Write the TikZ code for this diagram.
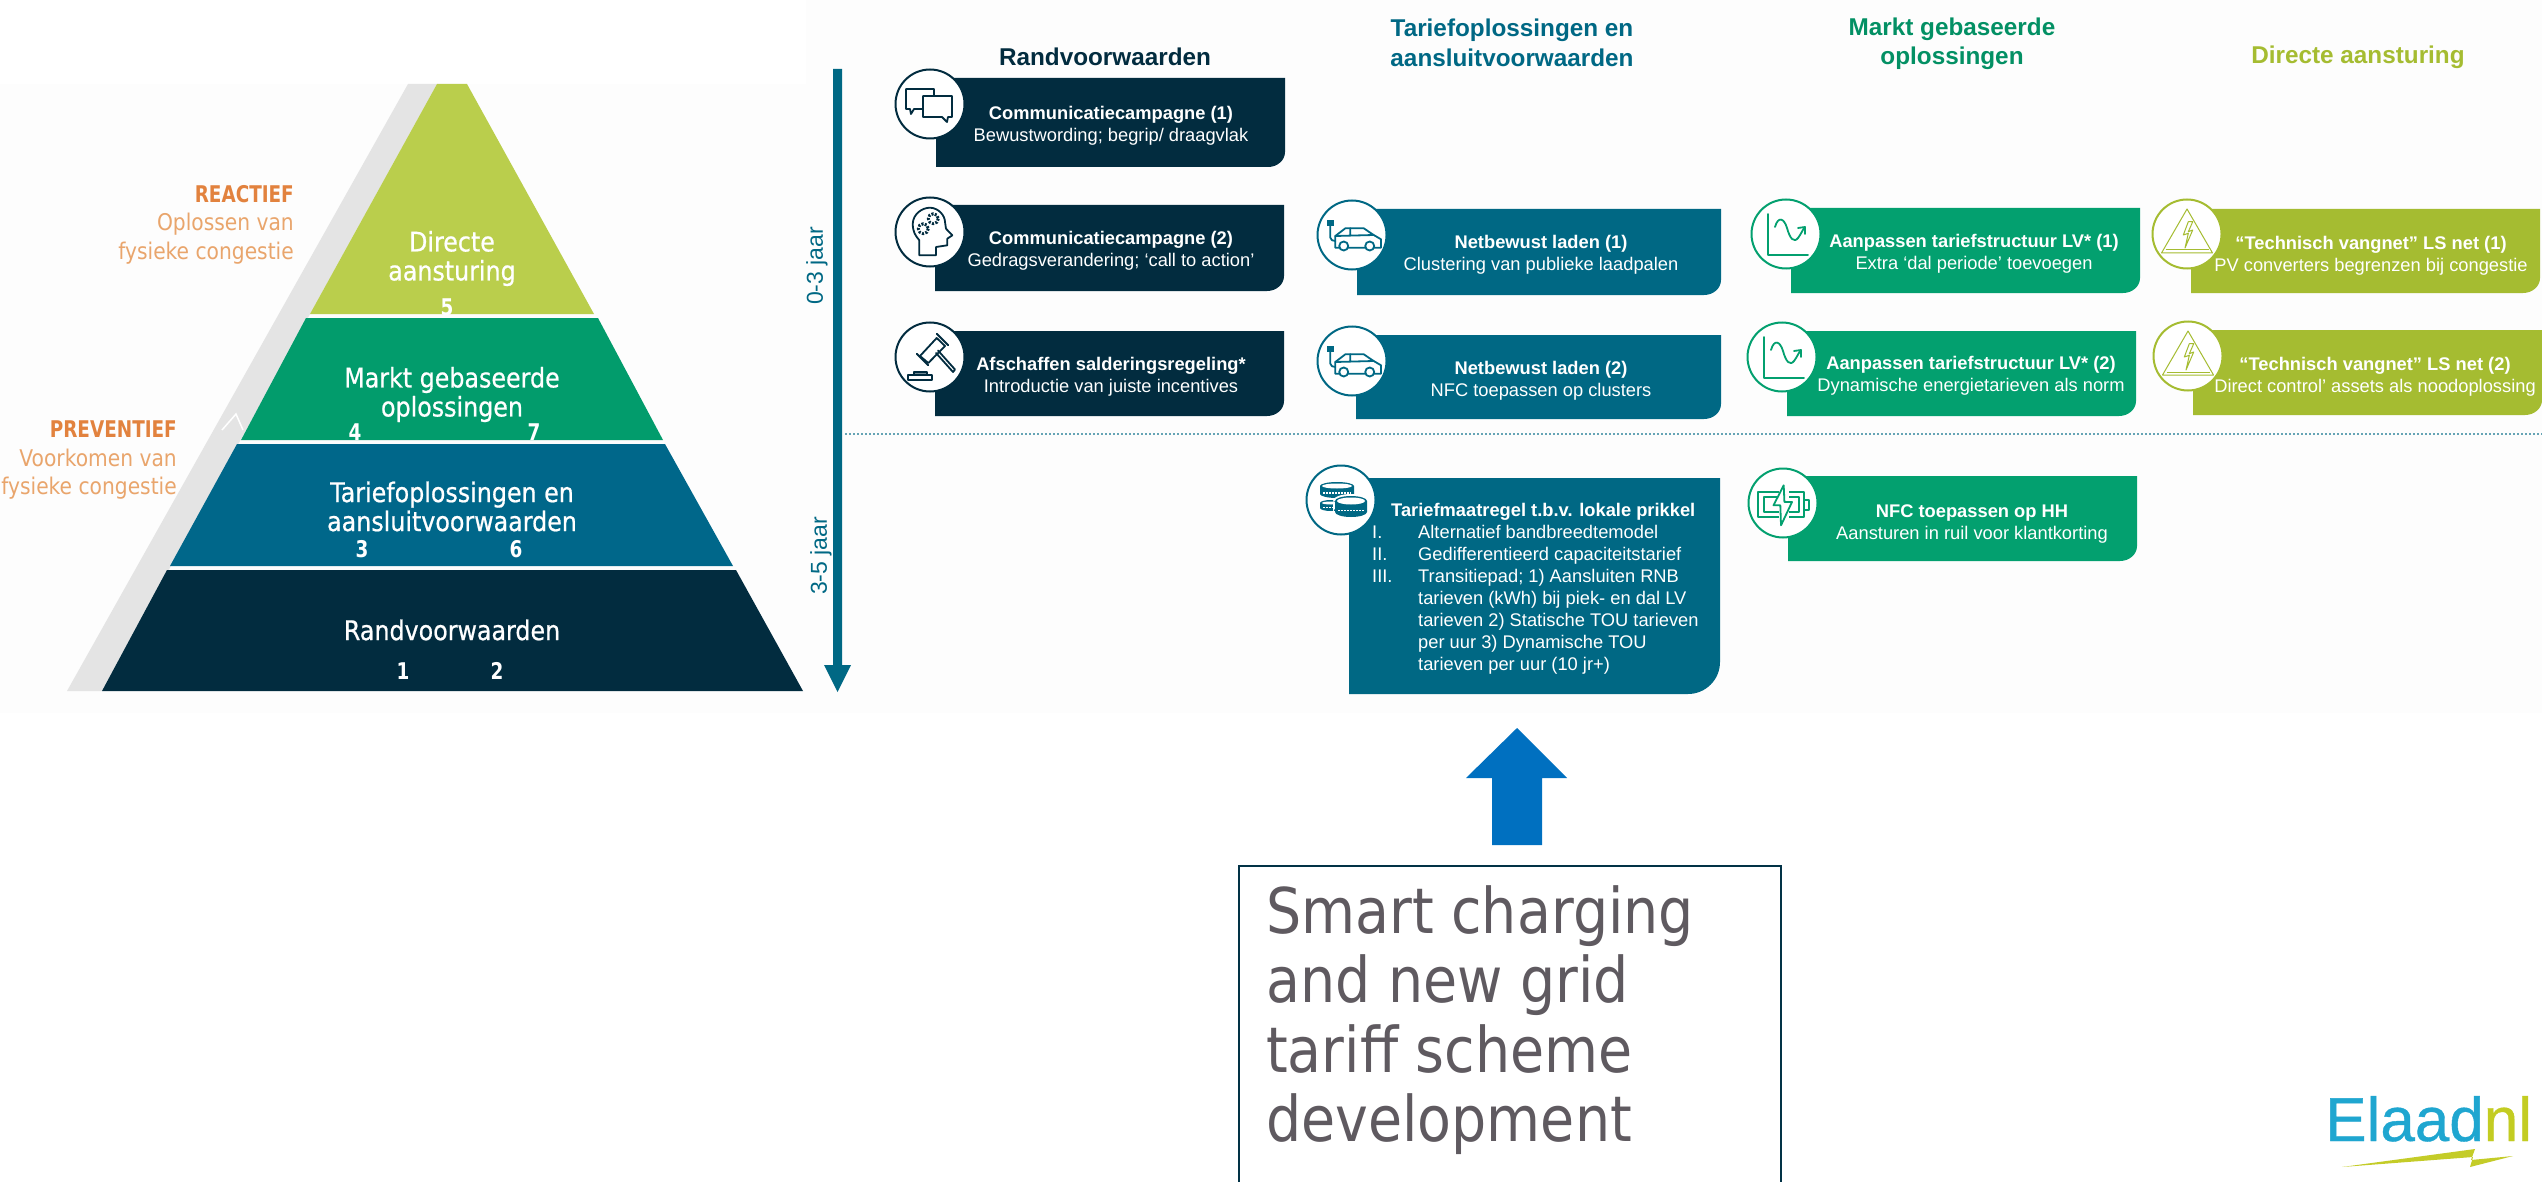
\documentclass[tikz,border=0pt]{standalone}
\usepackage{fontspec}
\setmainfont{Liberation Sans}
\newfontfamily\pyrfont[FakeStretch=0.88]{DejaVu Sans}
\newfontfamily\pyrbold[FakeStretch=0.88,FakeBold=0.7]{DejaVu Sans}
\newfontfamily\pyrheavy[FakeStretch=0.80]{DejaVu Sans}
\newfontfamily\logofont[FakeBold=0.6]{Liberation Sans}
\definecolor{navy}{HTML}{022C3F}
\definecolor{teal2}{HTML}{006884}
\definecolor{green2}{HTML}{03A06F}
\definecolor{lime2}{HTML}{A5BC31}
\definecolor{plime}{HTML}{BACE4C}
\definecolor{pgreen}{HTML}{029C6C}
\definecolor{pteal}{HTML}{00678A}
\definecolor{band}{HTML}{E4E4E4}
\definecolor{orangeA}{HTML}{E2823E}
\definecolor{orangeB}{HTML}{E9A56C}
\definecolor{pagebg}{HTML}{FDFDFD}
\definecolor{bigblue}{HTML}{0070C0}
\definecolor{grayt}{HTML}{5F5A60}
\newcommand{\fz}[2]{\fontsize{#1}{#2}\selectfont}
% \slidebox{name}{left}{top}{right}{bottom}{cx}{cy}{colour}
\newcommand{\slidebox}[8]{%
  \fill[#8] (#2+18,#3) -- (#4,#3) -- (#4,#5-15) arc[start angle=0,end angle=90,x radius=17,y radius=15] -- (#2,#5) -- (#2,#3+15) -- cycle;
  \node[ring,draw=#8] (#1) at (#6,#7) {};
}
% \coin{cx}{top y}{rx}{ry}{height}
\newcommand{\coin}[5]{%
  \fill[white] (#1,#2) ellipse[x radius=#3+2,y radius=#4+2] (#1-#3-2,#2) rectangle (#1+#3+2,#2+#5) (#1,#2+#5) ellipse[x radius=#3+2,y radius=#4+2];
  \fill[teal2] (#1-#3,#2) -- ++(0,#5) arc[start angle=180,end angle=0,x radius=#3,y radius=#4] -- ++(0,-#5) arc[start angle=0,end angle=-180,x radius=#3,y radius=#4] -- cycle;
  \fill[white] (#1,#2) ellipse[x radius=#3-2,y radius=#4-1.5];
  \draw[white,line width=1.5pt,dash pattern=on 1.5pt off 1.5pt] (#1-#3+3,#2+#4+#5/2-1) -- (#1+#3-3,#2+#4+#5/2-1);
}
\tikzset{
  x=1pt,y=-1pt,
  ring/.style={circle,fill=white,line width=2pt,minimum size=69pt,inner sep=0pt},
  boxtext/.style={text=white,align=center,inner sep=0pt,font=\fz{18.3}{22}},
  coltitle/.style={align=center,inner sep=0pt,font=\fz{24.3}{29.5}\bfseries},
  pyrtext/.style={text=white,align=center,inner sep=0pt,font=\pyrbold\fz{27}{29}},
  pyrnum/.style={text=white,inner sep=0pt,font=\pyrheavy\fz{23}{25}\bfseries},
  sidetext/.style={text=orangeB,align=right,anchor=east,inner sep=0pt,font=\pyrfont\fz{23}{28.5}},
  ic/.style={line width=1.8pt,line join=round,line cap=round},
}
\begin{document}
\begin{tikzpicture}
\clip (0,0) rectangle (2542,1182);
\fill[white] (0,0) rectangle (2542,1182);
\fill[pagebg] (0,84) rectangle (806,713);
\fill[pagebg] (806,0) rectangle (2542,713);

% pyramid
\fill[band] (67,691) -- (408,84) -- (437,84) -- (102,691) -- cycle;
\fill[plime] (437,84) -- (467,84) -- (594,314) -- (310,314) -- cycle;
\fill[pgreen] (306,318) -- (598,318) -- (663,440) -- (241,440) -- cycle;
\fill[pteal] (237,444) -- (665,444) -- (733,566) -- (170,566) -- cycle;
\fill[navy] (167,570) -- (736,570) -- (803,691) -- (102,691) -- cycle;
\draw[white,line width=1.5pt] (222,430) -- (236,414) -- (243,430);

\node[pyrtext] (pd) at (452,258.5) {Directe\\aansturing};
\node[pyrnum] (p5) at (447,307) {5};
\node[pyrtext] (pm) at (452,394.5) {Markt gebaseerde\\oplossingen};
\node[pyrnum] (p4) at (355,432) {4};
\node[pyrnum] (p7) at (534,432) {7};
\node[pyrtext] (pt) at (452,506.5) {Tariefoplossingen en\\aansluitvoorwaarden};
\node[pyrnum] (p3) at (362,549) {3};
\node[pyrnum] (p6) at (516,549) {6};
\node[pyrtext] (pr) at (452,630) {Randvoorwaarden};
\node[pyrnum] (p1) at (403,671) {1};
\node[pyrnum] (p2) at (497,671) {2};

\node[sidetext] (re) at (294,224.5) {{\color{orangeA}\pyrheavy\bfseries REACTIEF}\\Oplossen van\\fysieke congestie};
\node[sidetext] (pv) at (177,460.5) {{\color{orangeA}\pyrheavy\bfseries PREVENTIEF}\\Voorkomen van\\fysieke congestie};

% time axis
\fill[teal2] (833,69) -- (842,69) -- (842,665) -- (851,665) -- (837.5,692) -- (824,665) -- (833,665) -- cycle;
\node[text=teal2,rotate=90,inner sep=0pt,font=\fz{23}{26}] (t03) at (817,266) {0-3 jaar};
\node[text=teal2,rotate=90,inner sep=0pt,font=\fz{23}{26}] (t35) at (821,556) {3-5 jaar};
\draw[color=teal2!60,line width=2pt,dash pattern=on 2pt off 2pt] (845,434) -- (2542,434);

% column titles
\node[coltitle,text=navy] (c1) at (1105,57) {Randvoorwaarden};
\node[coltitle,text=teal2] (c2) at (1512,43) {Tariefoplossingen en\\aansluitvoorwaarden};
\node[coltitle,text=green2!90!black] (c3) at (1952,44) {Markt gebaseerde\\oplossingen};
\node[coltitle,text=lime2] (c4) at (2358,57) {Directe aansturing};

% boxes
\slidebox{r1}{936}{78}{1285}{167}{930}{104}{navy}
\slidebox{r2}{935}{205}{1284}{291}{930}{232}{navy}
\slidebox{r3}{935}{331}{1284}{416}{930}{357}{navy}
\slidebox{t1}{1357}{209}{1721}{295}{1352}{235}{teal2}
\slidebox{t2}{1356}{335}{1721}{419}{1352}{361}{teal2}
\slidebox{m1}{1791}{208}{2140}{293}{1786}{234}{green2}
\slidebox{m2}{1787}{331}{2136}{416}{1782}{357}{green2}
\slidebox{d1}{2191}{209}{2540}{293}{2187}{234}{lime2}
\slidebox{d2}{2193}{330}{2542}{415}{2188}{356}{lime2}
\slidebox{m3}{1788}{476}{2137}{561}{1783}{503}{green2}
% large tariff box
\fill[teal2] (1367,478) -- (1720,478) -- (1720,662) arc[start angle=0,end angle=90,radius=32] -- (1349,694) -- (1349,496) -- cycle;
\node[ring,draw=teal2] (t3) at (1341,500) {};

% box texts
\node[boxtext] (r1t) at (1111,126) {\textbf{Communicatiecampagne (1)}\\Bewustwording; begrip/ draagvlak};
\node[boxtext] (r2t) at (1111,251) {\textbf{Communicatiecampagne (2)}\\Gedragsverandering; ‘call to action’};
\node[boxtext] (r3t) at (1111,377) {\textbf{Afschaffen salderingsregeling*}\\Introductie van juiste incentives};
\node[boxtext] (t1t) at (1541,255) {\textbf{Netbewust laden (1)}\\Clustering van publieke laadpalen};
\node[boxtext] (t2t) at (1541,381) {\textbf{Netbewust laden (2)}\\NFC toepassen op clusters};
\node[boxtext] (m1t) at (1974,253.5) {\textbf{Aanpassen tariefstructuur LV* (1)}\\Extra ‘dal periode’ toevoegen};
\node[boxtext] (m2t) at (1971,376) {\textbf{Aanpassen tariefstructuur LV* (2)}\\Dynamische energietarieven als norm};
\node[boxtext] (d1t) at (2371,256) {\textbf{“Technisch vangnet” LS net (1)}\\PV converters begrenzen bij congestie};
\node[boxtext] (d2t) at (2375,377) {\textbf{“Technisch vangnet” LS net (2)}\\Direct control’ assets als noodoplossing};
\node[boxtext] (m3t) at (1972,524) {\textbf{NFC toepassen op HH}\\Aansturen in ruil voor klantkorting};
\node[text=white,inner sep=0pt,anchor=west,font=\fz{18.3}{22}\bfseries] (t3h) at (1391,512) {Tariefmaatregel t.b.v. lokale prikkel};
\node[text=white,inner sep=0pt,anchor=north west,font=\fz{18.3}{22}] (t3l) at (1372,523) {%
  \begin{tabular}{@{}p{46pt}@{}l@{}}
  I. & Alternatief bandbreedtemodel\\
  II. & Gedifferentieerd capaciteitstarief\\
  III. & Transitiepad; 1) Aansluiten RNB\\
   & tarieven (kWh) bij piek- en dal LV\\
   & tarieven 2) Statische TOU tarieven\\
   & per uur 3) Dynamische TOU\\
   & tarieven per uur (10 jr+)
  \end{tabular}};

% icons: speech bubbles
\begin{scope}[shift={(r1.center)},ic,navy]
  \draw (-24,-15) -- (4,-15) -- (4,5) -- (-16,5) -- (-19,10) -- (-20,5) -- (-24,5) -- cycle;
  \draw[fill=white] (-7,-8) -- (22,-8) -- (22,13) -- (18,13) -- (17,18) -- (12,13) -- (-7,13) -- cycle;
\end{scope}
% head with gears
\begin{scope}[shift={(r2.center)},ic,navy]
  \draw (-10.7,23.3) -- (-10.7,8.3) .. controls (-15,3) and (-17,0) .. (-17.3,-8) .. controls (-17,-18) and (-8,-24.3) .. (0,-24.3) .. controls (9,-24) and (15,-16) .. (15,-10) -- (16,-3.3) -- (22.3,3.3) -- (17.3,6.7) -- (17.3,13.3) -- (6,15) -- (6,23.3) -- cycle;
  \draw[line width=3pt,dash pattern=on 2pt off 1.5pt,line cap=butt] (-6.7,-3.3) circle[radius=5];
  \draw[line width=3pt,dash pattern=on 2pt off 1.5pt,line cap=butt] (3.3,-13.3) circle[radius=5];
\end{scope}
% gavel
\begin{scope}[shift={(r3.center)},ic,navy]
  \draw (-10,-1) -- (6.7,-19) -- (15,-11) -- (-1.7,6) -- cycle;
  \draw (-13.3,-3.3) -- (-1.7,8.3);
  \draw (6.7,-23.3) -- (18.3,-11.7);
  \draw (6,-4) -- (23,15) -- (25,12.5) -- (8,-6.5);
  \draw[fill=navy!55] (-16,15) rectangle (-3.3,18.3);
  \draw (-21.7,18.3) rectangle (1.7,23.3);
\end{scope}
% cars
\foreach \n in {t1,t2}{
\begin{scope}[shift={(\n.center)},ic,teal2]
  \draw (-16.7,12.7) -- (-16.7,1) -- (-6.7,-6.7) -- (11.7,-6.7) -- (21.7,0) -- (29,4.3) -- (29,12.7) -- (-16.7,12.7);
  \draw (-16.7,1) -- (21.7,0) (-1.7,-6.7) -- (-1.7,0.6);
  \draw[fill=white] (-8.3,11) circle[radius=4.5] (17.7,11) circle[radius=4.5];
  \draw (-21.7,-9) -- (-21.7,2.7) .. controls (-21.7,5) and (-19,6) .. (-16.7,6);
  \fill (-25,-14.7) rectangle (-18.5,-9);
\end{scope}}
% charts
\foreach \n in {m1,m2}{
\begin{scope}[shift={(\n.center)},ic,green2]
  \draw (-18,-20) -- (-18,21) -- (22,21);
  \draw (-11,-7) .. controls (-8,-18) and (-2,-16) .. (1,-6) .. controls (4,5) and (8,9) .. (12,4) .. controls (15,0) and (16,-3) .. (18,-6);
  \draw (12,-6) -- (19,-7) -- (19,0);
\end{scope}}
% warning triangles
\foreach \n in {d1,d2}{
\begin{scope}[shift={(\n.center)},lime2,line join=round]
  \draw[line width=1pt] (0,-25) -- (25.5,19) -- (-25.5,19) -- cycle;
  \draw[line width=1pt] (-21.5,16) -- (21.5,16);
  \draw[line width=1pt] (1.3,-12.3) -- (-3.7,1) -- (1.3,-0.7) -- (-2,14) -- (5.7,-4) -- (1.3,-2.3) -- (5.7,-12.3) -- cycle;
\end{scope}}
% coins
\begin{scope}[shift={(t3.center)}]
  \coin{-10}{3}{11}{3}{5}
  \coin{-4}{-14}{17}{4}{8}
  \coin{10}{1}{16}{5}{11}
\end{scope}
% battery
\begin{scope}[shift={(m3.center)},green2,line join=round,line width=1.8pt]
  \draw (-25,-11) rectangle (21,14);
  \draw (-19,-6) rectangle (16,9);
  \draw (21,-3) rectangle (26,7);
  \fill[white] (-4,-13) rectangle (6,16);
  \draw[fill=white] (0.7,-17.7) -- (-9.5,2.3) -- (-2.7,2.3) -- (-2,22.3) -- (9,-1) -- (1.4,-1) -- cycle;
\end{scope}

% big arrow and caption box
\node[inner sep=0pt,anchor=north west,text=grayt,align=left,font=\pyrfont\fz{63}{69.5}] (cap) at (1266,885) {Smart charging\\and new grid\\tariff scheme\\development};
\draw[color=navy!90!teal2,line width=2pt] (1239,1182) -- (1239,866) -- (1781,866) -- (1781,1182);
\fill[bigblue] (1517,728) -- (1567,778) -- (1542,778) -- (1542,845) -- (1492,845) -- (1492,778) -- (1466,778) -- cycle;

% logo
\node[inner sep=0pt,anchor=base west,font=\logofont\fz{62}{62}] (logo) at (2325,1141) {\textcolor[HTML]{1FA6D0}{Elaad}\textcolor[HTML]{C3CC22}{nl}};
\fill[color={rgb,255:red,196;green,204;blue,40}] (2342,1167) -- (2475,1149) -- (2471,1160) -- (2513,1156) -- (2470,1167) -- (2473,1157) -- cycle;
\end{tikzpicture}
\end{document}
